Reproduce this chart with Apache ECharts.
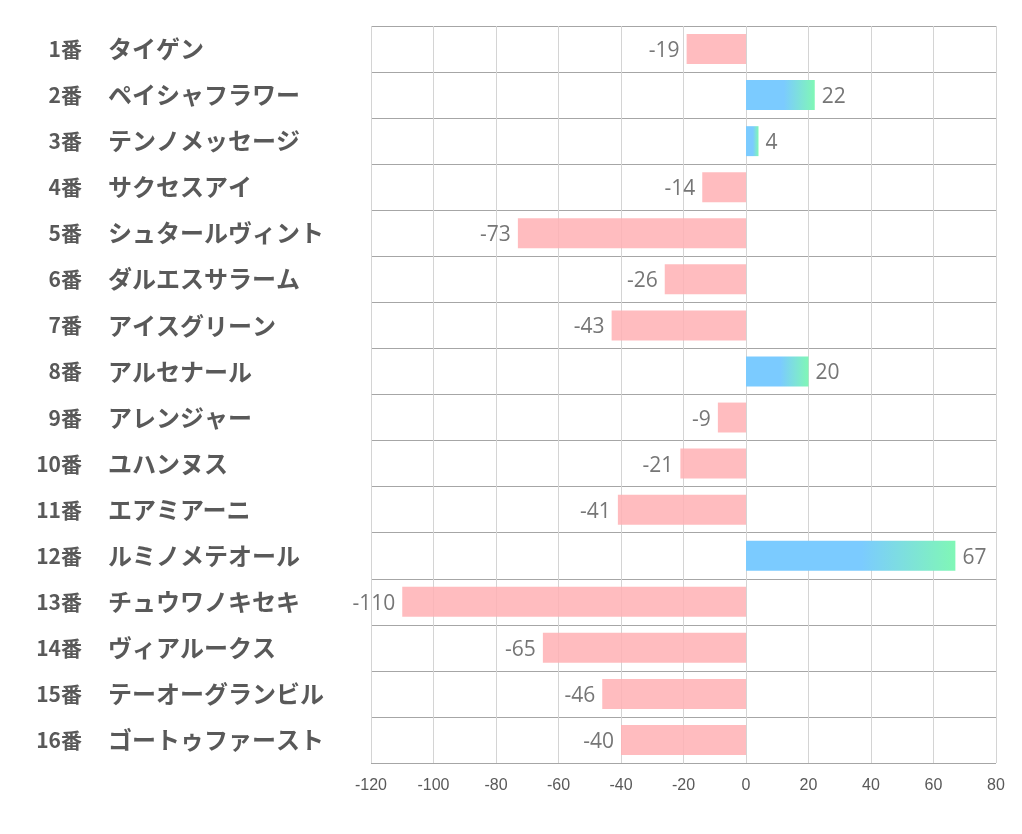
<!DOCTYPE html>
<html>
<head>
<meta charset="utf-8">
<script src="https://cdn.jsdelivr.net/npm/echarts@6/dist/echarts.min.js"></script>
<style>html,body{margin:0;padding:0;background:#fff;}#main{width:1022px;height:834px;}</style>
</head>
<body>
<div id="main"></div>
<script>
const numbers = ['1番','2番','3番','4番','5番','6番','7番','8番','9番','10番','11番','12番','13番','14番','15番','16番'];
const names = ['タイゲン','ペイシャフラワー','テンノメッセージ','サクセスアイ','シュタールヴィント','ダルエスサラーム','アイスグリーン','アルセナール','アレンジャー','ユハンヌス','エアミアーニ','ルミノメテオール','チュウワノキセキ','ヴィアルークス','テーオーグランビル','ゴートゥファースト'];
const values = [-19, 22, 4, -14, -73, -26, -43, 20, -9, -21, -41, 67, -110, -65, -46, -40];
const xTicks = [-120, -100, -80, -60, -40, -20, 0, 20, 40, 60, 80];

const posGrad = new echarts.graphic.LinearGradient(0, 0, 1, 0, [
  {offset: 0, color: '#7BCBFF'},
  {offset: 0.55, color: '#7BCBFF'},
  {offset: 1, color: '#80F7B6'}
]);
const seriesData = values.map(v => ({
  value: v,
  itemStyle: v >= 0 ? {color: posGrad} : {color: 'rgba(255,176,180,0.85)'},
  label: {position: v >= 0 ? 'right' : 'left'}
}));

const labelFont = {fontWeight: 'bold', color: '#595959', fontFamily: 'Noto Sans CJK JP'};

const chart = echarts.init(document.getElementById('main'));
chart.setOption({
  animation: false,
  grid: {left: 371, right: 26, top: 26, bottom: 71, containLabel: false},
  xAxis: {
    type: 'value',
    min: xTicks[0], max: xTicks[xTicks.length - 1], interval: 20,
    axisLine: {show: false},
    axisTick: {show: false},
    splitLine: {show: true, lineStyle: {color: '#D4D4D4', width: 1}},
    axisLabel: {color: '#595959', fontSize: 16, fontFamily: 'Liberation Sans Narrow, Liberation Sans, sans-serif', margin: 15}
  },
  yAxis: [{
    type: 'category',
    position: 'left',
    offset: 0,
    inverse: true,
    data: numbers,
    axisLine: {show: false},
    axisTick: {show: false},
    splitLine: {show: true, lineStyle: {color: '#A6A6A6', width: 1}},
    axisLabel: Object.assign({align: 'right', margin: 289, fontSize: 21}, labelFont)
  }, {
    type: 'category',
    position: 'left',
    offset: 0,
    inverse: true,
    data: names,
    axisLine: {show: false},
    axisTick: {show: false},
    splitLine: {show: false},
    axisLabel: Object.assign({align: 'left', margin: 263, fontSize: 24}, labelFont)
  }],
  series: [{
    type: 'bar',
    yAxisIndex: 0,
    data: seriesData,
    barWidth: '65%',
    label: {show: true, distance: 7, color: '#767676', fontSize: 21, fontFamily: 'Open Sans, sans-serif', offset: [0, 2]}
  }]
});
</script>
</body>
</html>
